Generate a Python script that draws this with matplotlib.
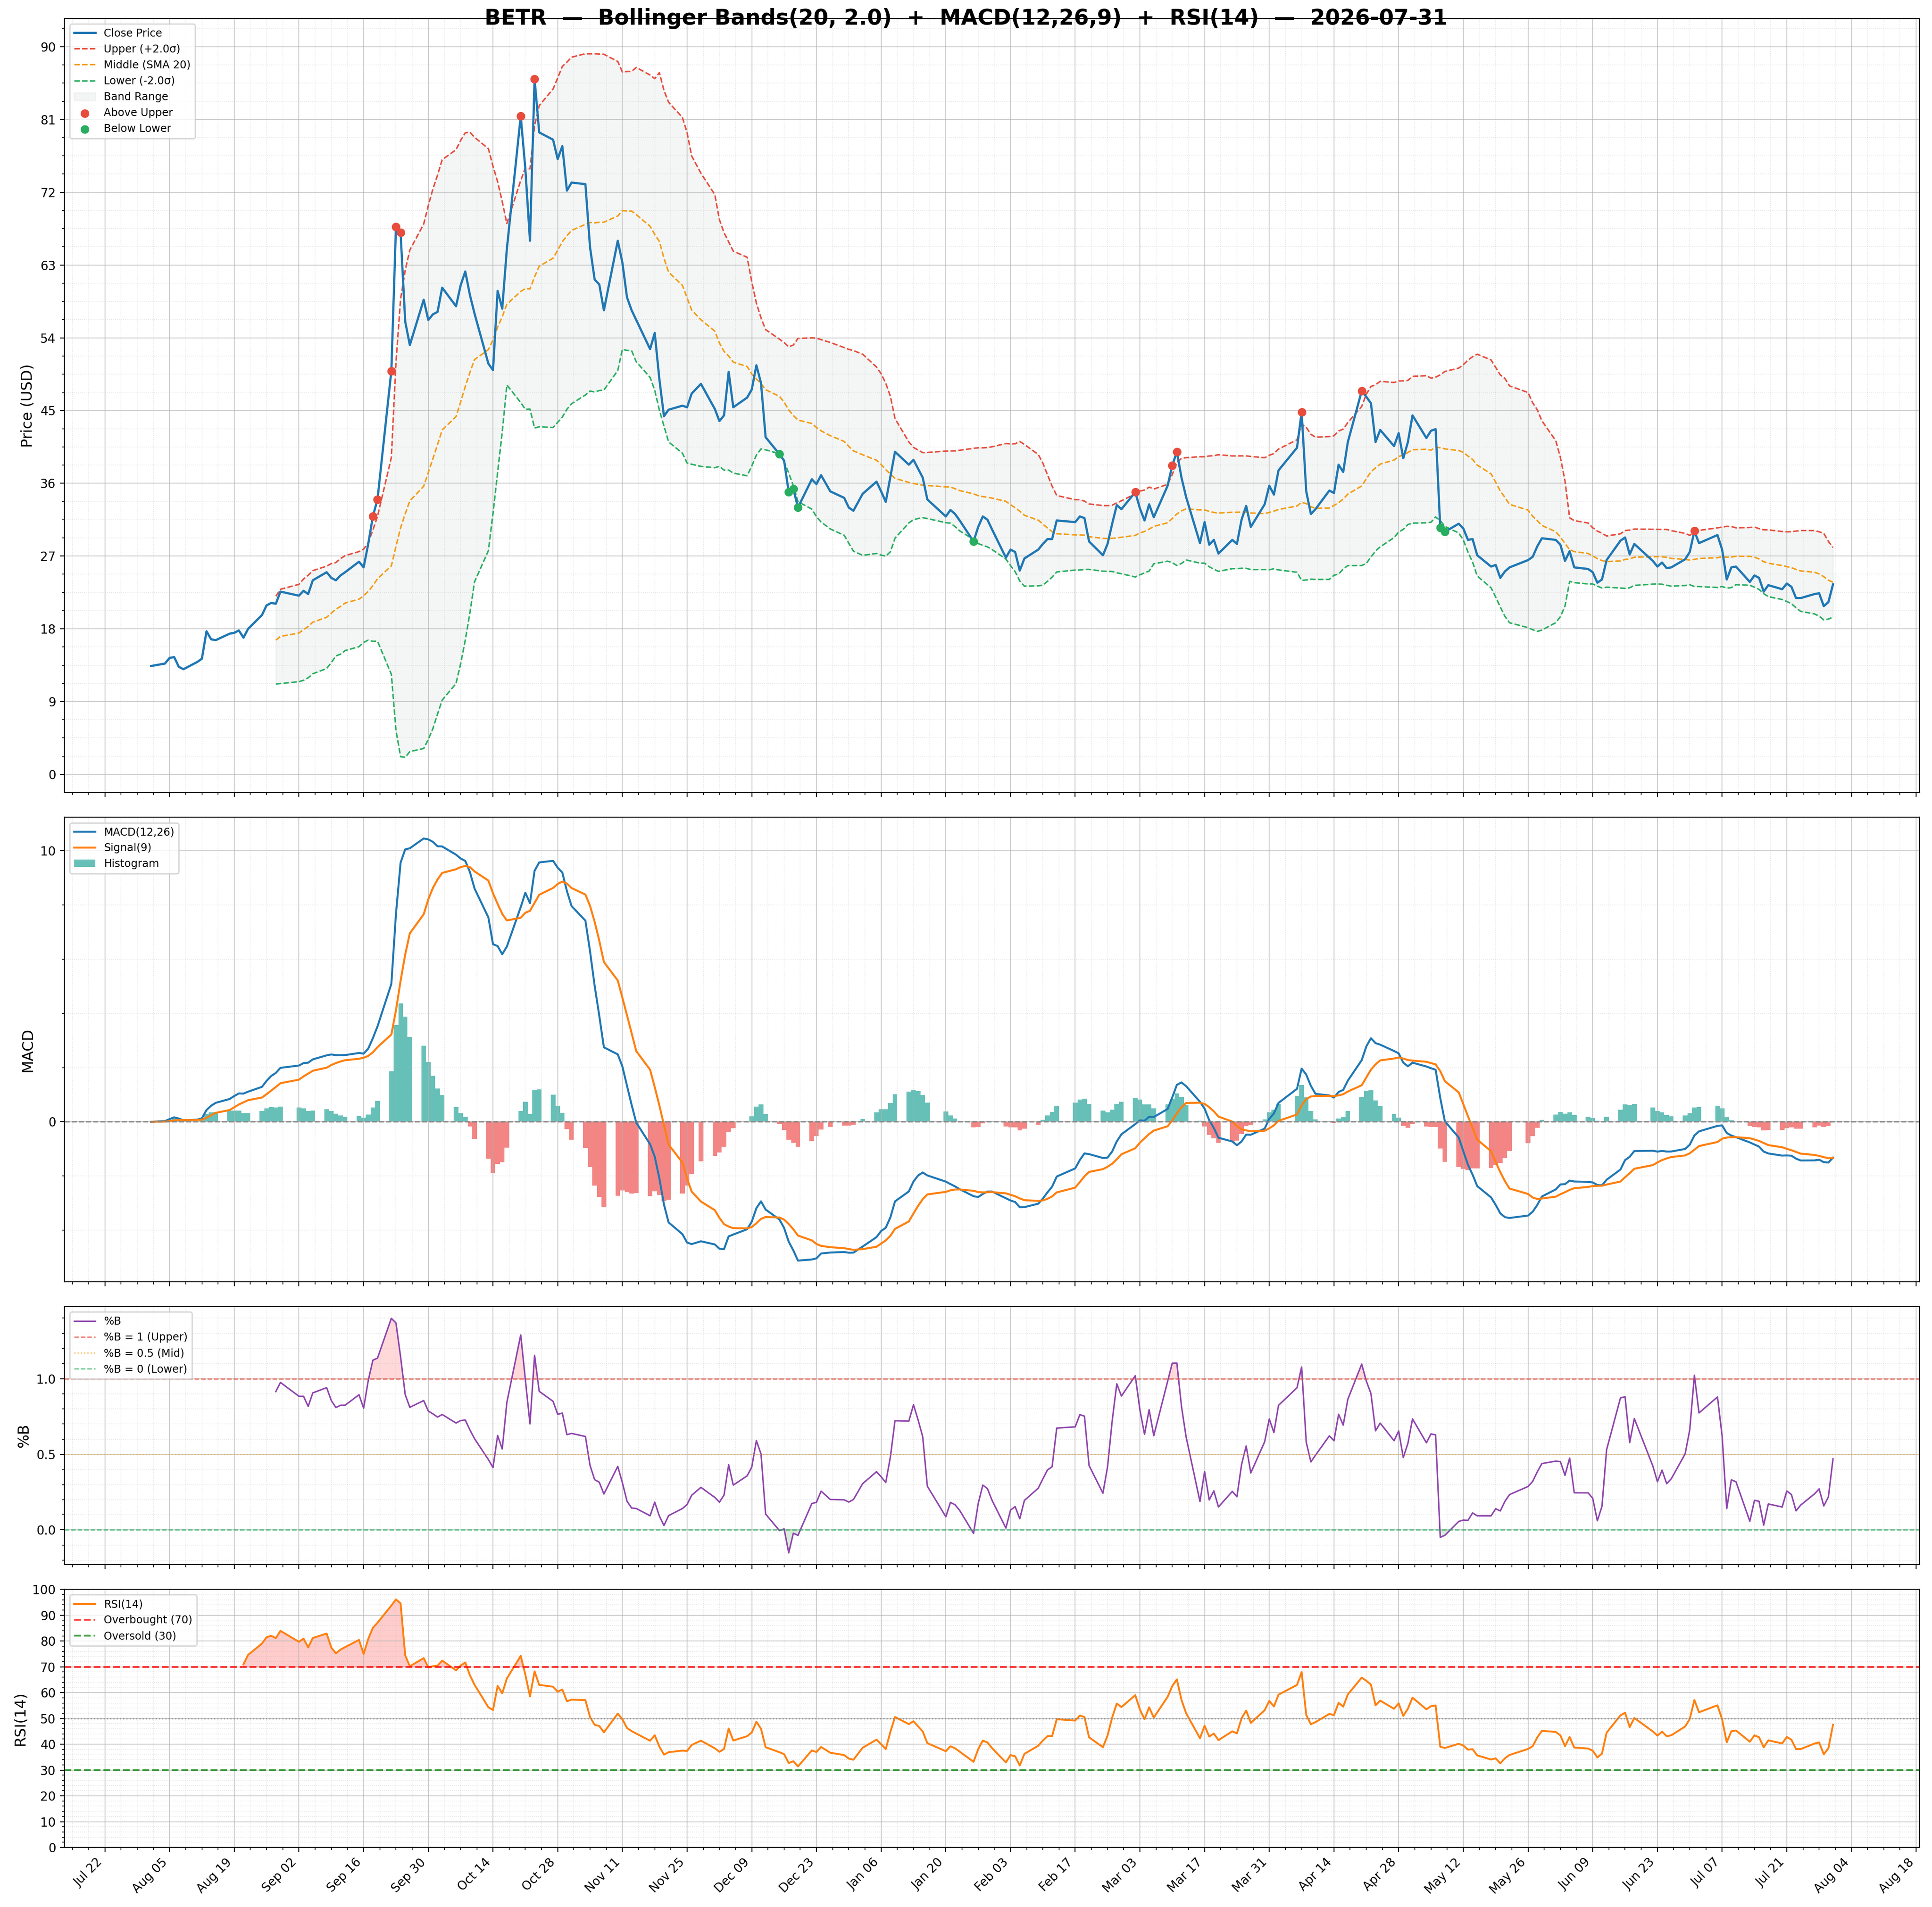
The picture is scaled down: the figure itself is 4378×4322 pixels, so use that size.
import numpy as np
import pandas as pd
import matplotlib
matplotlib.use("Agg")
import matplotlib.pyplot as plt
import matplotlib.dates as mdates
from matplotlib.ticker import MultipleLocator, AutoMinorLocator

TICKER = "BETR"
AS_OF = "2026-07-31"
BB_N, BB_K = 20, 2.0
FAST, SLOW, SIG = 12, 26, 9
RSI_N = 14

# exchange trading days, Aug 2025 .. Jul 2026 (market holidays skipped)
holidays = ["2025-09-01", "2025-11-27", "2025-12-25", "2026-01-01", "2026-01-19",
            "2026-02-16", "2026-04-03", "2026-05-25", "2026-06-19", "2026-07-03"]
dates = pd.bdate_range("2025-08-01", "2026-07-31", freq="C", holidays=holidays)

# closes, month by month
close_aug = [13.4, 13.7, 14.4, 14.5, 13.3, 13.0, 13.9, 14.3, 17.7, 16.7, 16.6,
             17.4, 17.5, 17.8, 16.9, 18.0, 19.7, 20.9, 21.2, 21.1, 22.6]
close_sep = [22.1, 22.7, 22.3, 24.0, 25.0, 24.3, 24.0, 24.6, 25.0, 26.3,
             25.6, 28.5, 31.9, 34.0, 49.9, 67.7, 67.0, 56.0, 53.1, 58.7, 56.2]
close_oct = [56.9, 57.2, 60.2, 57.9, 60.5, 62.2, 59.3, 57.0, 50.8, 50.0, 59.8,
             57.6, 65.0, 81.4, 74.9, 66.0, 86.0, 79.4, 78.5, 76.1, 77.7, 72.2, 73.2]
close_nov = [73.0, 65.2, 61.2, 60.6, 57.4, 66.0, 63.3, 59.0, 57.4, 56.2, 52.6,
             54.6, 48.9, 44.3, 45.1, 45.6, 45.4, 47.1, 48.3]
close_dec = [45.2, 43.7, 44.4, 49.8, 45.4, 46.6, 47.6, 50.6, 48.4, 41.7, 39.6,
             38.8, 34.9, 35.3, 33.0, 36.5, 35.9, 37.0, 35.0, 34.2, 33.0, 32.6]
close_jan = [34.7, 36.2, 35.0, 33.7, 36.8, 39.9, 38.3, 38.9, 37.8, 36.7,
             34.0, 31.9, 32.7, 32.2, 31.4, 28.8, 30.6, 31.9, 31.5, 30.3]
close_feb = [26.8, 27.8, 27.5, 25.2, 26.7, 27.8, 28.5, 29.1, 29.1, 31.4,
             31.2, 31.9, 31.7, 28.8, 27.1, 28.5, 31.0, 33.3, 32.8]
close_mar = [34.9, 32.9, 31.4, 33.4, 31.8, 35.7, 38.2, 39.9, 36.7, 34.3, 28.6,
             31.2, 28.4, 29.0, 27.3, 29.0, 28.5, 31.5, 33.2, 30.6, 33.4, 35.7]
close_apr = [34.6, 37.6, 40.4, 44.8, 35.0, 32.2, 32.8, 35.1, 34.8, 38.3,
             37.4, 41.1, 47.4, 46.7, 45.9, 41.1, 42.6, 40.6, 42.2, 39.1, 41.1]
close_may = [44.4, 41.6, 42.5, 42.7, 30.5, 30.0, 31.0, 30.4, 29.0, 29.1, 27.1,
             25.7, 25.9, 24.3, 25.1, 25.6, 26.5, 26.9, 28.2, 29.2]
close_jun = [29.0, 28.4, 26.4, 27.6, 25.6, 25.4, 25.0, 23.7, 24.1, 26.5, 28.9,
             29.3, 27.2, 28.5, 26.4, 25.7, 26.2, 25.5, 25.6, 26.6, 27.5]
close_jul = [30.1, 28.6, 29.6, 27.8, 24.1, 25.6, 25.7, 23.8, 24.6, 24.3,
             22.6, 23.4, 22.9, 23.6, 23.2, 21.8, 21.8, 22.3, 22.4, 20.8, 21.3, 23.5]

close = pd.Series(close_aug + close_sep + close_oct + close_nov + close_dec
                  + close_jan + close_feb + close_mar + close_apr + close_may
                  + close_jun + close_jul, index=dates)

tick_dates = pd.date_range("2025-07-22", "2026-08-18", freq="14D")

# --- indicators ---------------------------------------------------------
mid = close.rolling(BB_N).mean()
sd = close.rolling(BB_N).std()
upper = mid + BB_K * sd
lower = mid - BB_K * sd
pctb = (close - lower) / (upper - lower)

macd = close.ewm(span=FAST, adjust=False).mean() - close.ewm(span=SLOW, adjust=False).mean()
signal = macd.ewm(span=SIG, adjust=False).mean()
hist = macd - signal

delta = close.diff()
gain = delta.clip(lower=0).ewm(alpha=1 / RSI_N, min_periods=RSI_N, adjust=False).mean()
loss = (-delta.clip(upper=0)).ewm(alpha=1 / RSI_N, min_periods=RSI_N, adjust=False).mean()
rsi = 100 - 100 / (1 + gain / loss)

# --- figure -------------------------------------------------------------
W, H = 4378, 4322
fig = plt.figure(figsize=(W / 200, H / 200), dpi=200)
gs = fig.add_gridspec(4, 1, height_ratios=[3, 1.8, 1, 1], hspace=0.0567,
                      left=146 / W, right=4350 / W, top=1 - 42 / H, bottom=1 - 4187 / H)
ax1 = fig.add_subplot(gs[0])
ax2 = fig.add_subplot(gs[1], sharex=ax1)
ax3 = fig.add_subplot(gs[2], sharex=ax1)
ax4 = fig.add_subplot(gs[3], sharex=ax1)

# price + bands
ax1.plot(dates, close, color="#1f77b4", lw=1.8, label="Close Price", zorder=3)
ax1.plot(dates, upper, color="#e74c3c", ls="--", lw=1.2, label="Upper (+2.0σ)")
ax1.plot(dates, mid, color="#f39c12", ls="--", lw=1.2, label="Middle (SMA 20)")
ax1.plot(dates, lower, color="#27ae60", ls="--", lw=1.2, label="Lower (-2.0σ)")
ax1.fill_between(dates, lower, upper, color="#95a5a6", alpha=0.1, label="Band Range")
above = (close > upper).values
below = (close < lower).values
ax1.scatter(dates[above], close[above], color="#e74c3c", s=36, zorder=5, label="Above Upper")
ax1.scatter(dates[below], close[below], color="#27ae60", s=36, zorder=5, label="Below Lower")
ax1.set_ylabel("Price (USD)", fontsize=12)
ax1.yaxis.set_major_locator(MultipleLocator(9))
ax1.legend(loc="upper left", fontsize=8.7)

# MACD
ax2.plot(dates, macd, color="#1f77b4", lw=1.6, label="MACD(12,26)")
ax2.plot(dates, signal, color="#ff7f0e", lw=1.6, label="Signal(9)")
bar_cols = np.where(hist.values >= 0, "#26a69a", "#ef5350")
ax2.bar(dates, hist.values, width=1.0, color=bar_cols, alpha=0.7, label="Histogram")
ax2.axhline(0, color="gray", ls="--", lw=1.1, alpha=0.9)
ax2.set_ylabel("MACD", fontsize=12)
ax2.yaxis.set_major_locator(MultipleLocator(10))
ax2.legend(loc="upper left", fontsize=8.7)

# %B
ax3.plot(dates, pctb, color="#8e44ad", lw=1.2, label="%B")
ax3.axhline(1.0, color="#e74c3c", ls="--", lw=1.0, alpha=0.7, label="%B = 1 (Upper)")
ax3.axhline(0.5, color="#f39c12", ls=":", lw=1.0, alpha=0.7, label="%B = 0.5 (Mid)")
ax3.axhline(0.0, color="#27ae60", ls="--", lw=1.0, alpha=0.7, label="%B = 0 (Lower)")
ax3.fill_between(dates, pctb, 1, where=(pctb > 1).values, color="red", alpha=0.15, interpolate=True)
ax3.fill_between(dates, pctb, 0, where=(pctb < 0).values, color="green", alpha=0.15, interpolate=True)
ax3.set_ylabel("%B", fontsize=12)
ax3.yaxis.set_major_locator(MultipleLocator(0.5))
ax3.legend(loc="upper left", fontsize=8.7)

# RSI
ax4.plot(dates, rsi, color="#ff7f0e", lw=1.5, label="RSI(14)")
ax4.axhline(70, color="red", ls="--", lw=1.5, alpha=0.75, label="Overbought (70)")
ax4.axhline(30, color="green", ls="--", lw=1.5, alpha=0.75, label="Oversold (30)")
ax4.axhline(50, color="gray", ls=":", lw=1.0, alpha=0.8)
ax4.fill_between(dates, rsi, 70, where=(rsi >= 70).values, color="red", alpha=0.2, interpolate=True)
ax4.fill_between(dates, rsi, 30, where=(rsi <= 30).values, color="green", alpha=0.2, interpolate=True)
ax4.set_ylim(0, 100)
ax4.set_ylabel("RSI(14)", fontsize=12)
ax4.yaxis.set_major_locator(MultipleLocator(10))
ax4.legend(loc="upper left", fontsize=8.7)

ax4.set_xticks(tick_dates)
ax4.xaxis.set_major_formatter(mdates.DateFormatter("%b %d"))
ax4.xaxis.set_minor_locator(AutoMinorLocator())

for ax in (ax1, ax2, ax3, ax4):
    ax.yaxis.set_minor_locator(AutoMinorLocator())
    ax.grid(True, which="major", color="#b0b0b0", alpha=0.6, lw=0.8)
    ax.grid(True, which="minor", color="#b0b0b0", ls=":", alpha=0.35, lw=0.6)
    ax.tick_params(labelsize=10)
for ax in (ax1, ax2, ax3):
    ax.tick_params(labelbottom=False)
plt.setp(ax4.get_xticklabels(), rotation=45, ha="right")

fig.text(0.5, 1 - 42 / H,
         f"{TICKER}  —  Bollinger Bands({BB_N}, {BB_K})  +  MACD({FAST},{SLOW},{SIG})  +  RSI({RSI_N})  —  {AS_OF}",
         ha="center", va="center", fontsize=17.5, fontweight="bold")

fig.savefig("out.png", dpi=200)
